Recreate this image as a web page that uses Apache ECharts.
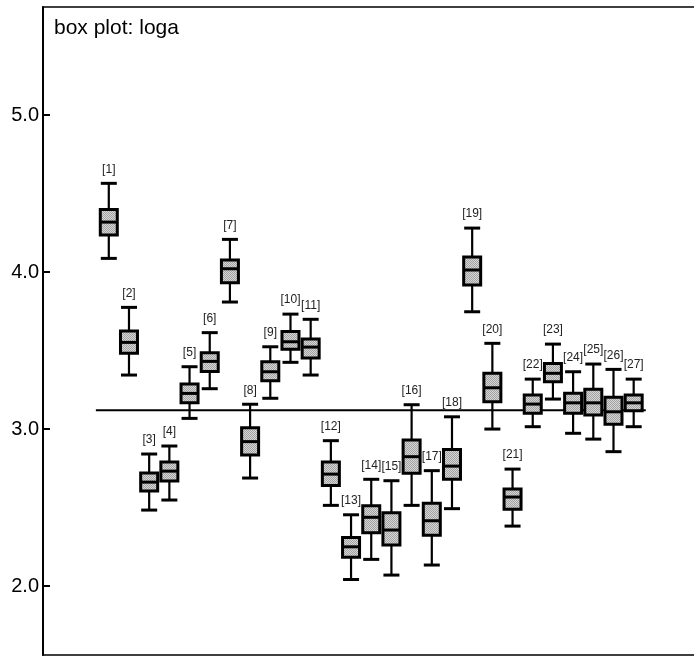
<!DOCTYPE html>
<html>
<head>
<meta charset="utf-8">
<script src="https://cdn.jsdelivr.net/npm/echarts@6/dist/echarts.min.js"></script>
<style>
html,body{margin:0;padding:0;background:#fff;}
#chart{width:694px;height:656px;}
</style>
</head>
<body>
<div id="chart"></div>
<script>
const categories = ['[1]','[2]','[3]','[4]','[5]','[6]','[7]','[8]','[9]','[10]','[11]','[12]','[13]','[14]','[15]','[16]','[17]','[18]','[19]','[20]','[21]','[22]','[23]','[24]','[25]','[26]','[27]'];
const whiskerLow  = [4.087,3.344,2.484,2.548,3.068,3.257,3.809,2.688,3.196,3.425,3.344,2.514,2.042,2.170,2.070,2.514,2.134,2.493,3.747,3.000,2.382,3.015,3.191,2.973,2.936,2.856,3.015];
const quartile1   = [4.236,3.482,2.605,2.669,3.167,3.367,3.932,2.834,3.308,3.508,3.452,2.641,2.183,2.340,2.261,2.718,2.323,2.680,3.917,3.174,2.490,3.100,3.301,3.100,3.089,3.030,3.117];
const medians     = [4.318,3.552,2.662,2.732,3.227,3.431,4.021,2.920,3.365,3.556,3.522,2.713,2.250,2.438,2.357,2.824,2.416,2.764,4.013,3.263,2.567,3.159,3.355,3.167,3.167,3.110,3.167];
const quartile3   = [4.399,3.624,2.720,2.790,3.287,3.486,4.076,3.009,3.429,3.622,3.573,2.790,2.310,2.512,2.467,2.930,2.527,2.870,4.096,3.355,2.618,3.217,3.418,3.228,3.253,3.202,3.217];
const whiskerHigh = [4.565,3.775,2.841,2.892,3.397,3.614,4.208,3.158,3.524,3.732,3.699,2.926,2.454,2.680,2.671,3.155,2.735,3.078,4.280,3.546,2.745,3.318,3.541,3.365,3.414,3.380,3.318];
const referenceValue = 3.12;
const referenceSpan = [0.36, 27.6];
const yTickValues = [2, 3, 4, 5];
const titleText = 'box plot: loga';

const boxData = categories.map((c, i) => [i + 1, whiskerLow[i], quartile1[i], medians[i], quartile3[i], whiskerHigh[i]]);

// halftone-like fill pattern
const pc = document.createElement('canvas');
pc.width = 2; pc.height = 2;
const pctx = pc.getContext('2d');
pctx.fillStyle = '#d6d6d6'; pctx.fillRect(0, 0, 2, 2);
pctx.fillStyle = '#a2a2a2'; pctx.fillRect(0, 0, 1, 1); pctx.fillRect(1, 1, 1, 1);
const boxFill = {image: pc, repeat: 'repeat'};

function renderBox(params, api) {
  const x = api.value(0);
  const lo = api.coord([x, api.value(1)]);
  const q1 = api.coord([x, api.value(2)]);
  const md = api.coord([x, api.value(3)]);
  const q3 = api.coord([x, api.value(4)]);
  const hi = api.coord([x, api.value(5)]);
  const cx = lo[0];
  const bw = 17, cw = 16;
  const blk = '#000';
  return {
    type: 'group',
    children: [
      {type: 'line', shape: {x1: cx, y1: hi[1], x2: cx, y2: lo[1]}, style: {stroke: blk, lineWidth: 2.2}},
      {type: 'line', shape: {x1: cx - cw / 2, y1: hi[1], x2: cx + cw / 2, y2: hi[1]}, style: {stroke: blk, lineWidth: 3}},
      {type: 'line', shape: {x1: cx - cw / 2, y1: lo[1], x2: cx + cw / 2, y2: lo[1]}, style: {stroke: blk, lineWidth: 3}},
      {type: 'rect', shape: {x: cx - bw / 2, y: q3[1], width: bw, height: q1[1] - q3[1]}, style: {fill: boxFill, stroke: blk, lineWidth: 3}},
      {type: 'line', shape: {x1: cx - bw / 2, y1: md[1], x2: cx + bw / 2, y2: md[1]}, style: {stroke: blk, lineWidth: 3}},
      {type: 'text', style: {text: categories[params.dataIndex], x: cx, y: hi[1] - 8, align: 'center', verticalAlign: 'bottom', fontSize: 12, fontFamily: 'Liberation Sans, Arial, sans-serif', fill: '#222'}}
    ]
  };
}

const chart = echarts.init(document.getElementById('chart'), null, {renderer: 'canvas'});
chart.setOption({
  animation: false,
  backgroundColor: '#fff',
  title: {text: titleText, left: 49, top: 13, textStyle: {fontSize: 21, fontWeight: 'normal', color: '#000', fontFamily: 'Liberation Sans, Arial, sans-serif'}},
  grid: {left: 43, top: 7, right: -2, bottom: 1, containLabel: false},
  xAxis: [
    {type: 'value', position: 'bottom', min: -2.259, max: 29.988, axisLine: {show: true, onZero: false, lineStyle: {color: '#000', width: 1.5}}, axisTick: {show: false}, axisLabel: {show: false}, splitLine: {show: false}},
    {type: 'value', position: 'top', min: -2.259, max: 29.988, axisLine: {show: true, onZero: false, lineStyle: {color: '#000', width: 1.5}}, axisTick: {show: false}, axisLabel: {show: false}, splitLine: {show: false}}
  ],
  yAxis: {
    type: 'value', min: 1.561, max: 5.688,
    axisLine: {show: true, onZero: false, lineStyle: {color: '#000', width: 2}},
    axisTick: {show: true, inside: true, length: 7, customValues: yTickValues, lineStyle: {color: '#000', width: 2}},
    axisLabel: {show: true, customValues: yTickValues, margin: 4, fontSize: 20, color: '#000', fontFamily: 'Liberation Sans, Arial, sans-serif', formatter: v => v.toFixed(1)},
    splitLine: {show: false}
  },
  series: [
    {type: 'line', xAxisIndex: 0, data: [[referenceSpan[0], referenceValue], [referenceSpan[1], referenceValue]], symbol: 'none', lineStyle: {color: '#000', width: 2}, z: 1, silent: true},
    {type: 'custom', xAxisIndex: 0, renderItem: renderBox, data: boxData, encode: {x: 0, y: [1, 2, 3, 4, 5]}, clip: false, z: 2}
  ]
});
</script>
</body>
</html>
